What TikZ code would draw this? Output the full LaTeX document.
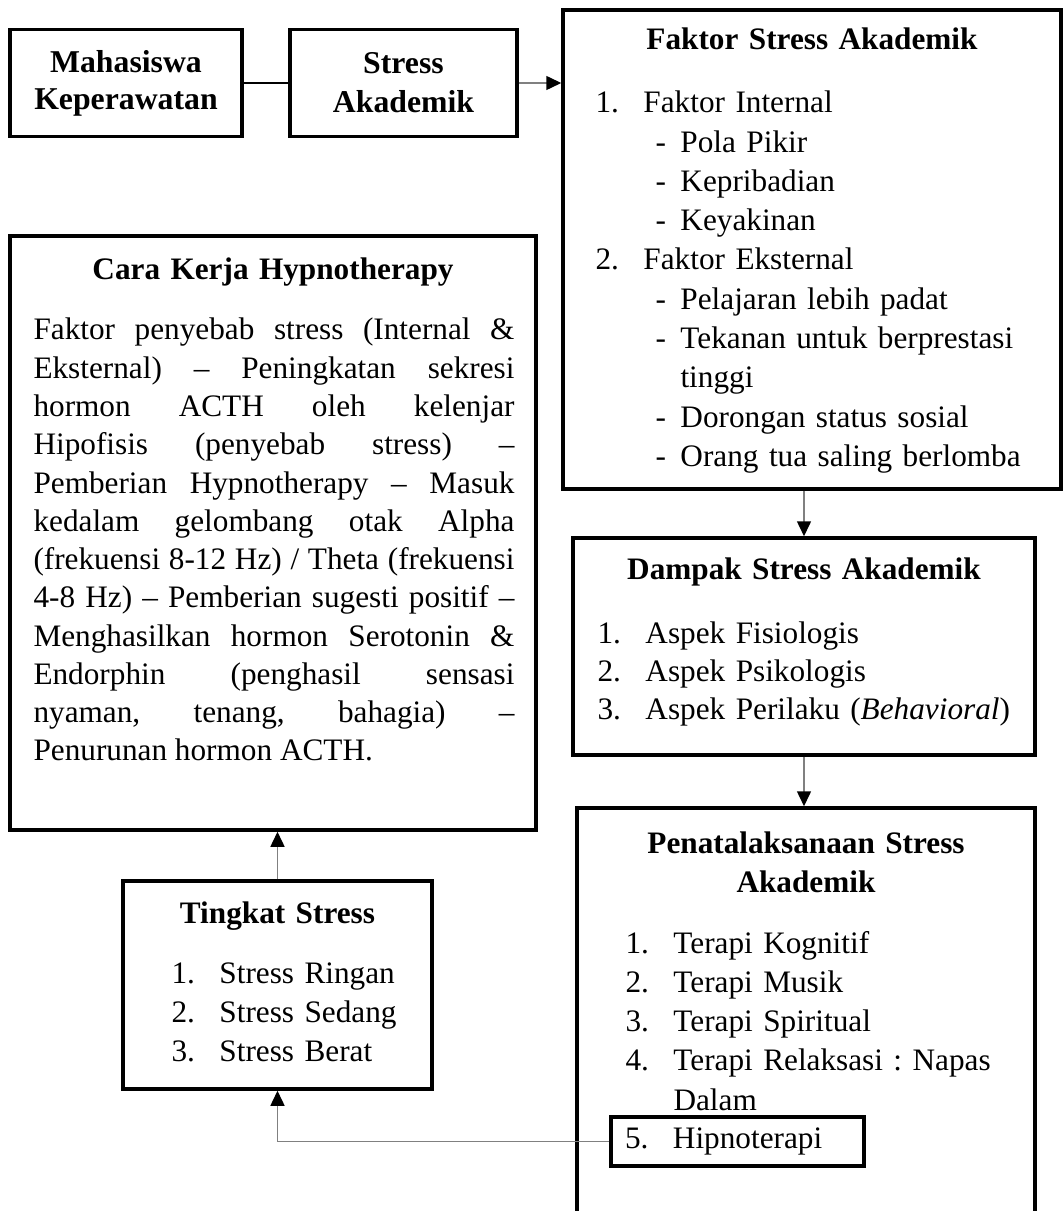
\documentclass[tikz,border=0pt]{standalone}
\usepackage{fontspec}
\setmainfont{Liberation Serif}
\usetikzlibrary{arrows.meta}
\frenchspacing
\newlength{\pxl}\setlength{\pxl}{0.4pt}
\newcommand{\jl}[1]{\makebox[\hsize][s]{#1}}
\newcommand{\nr}[1]{\makebox[48\pxl][l]{#1}}
\newcommand{\dsh}{\hspace*{60\pxl}\makebox[25\pxl][l]{-}}
\begin{document}
\begin{tikzpicture}[x=0.4pt,y=-0.4pt,
                font=\fontsize{12.5}{15.7}\selectfont\frenchspacing,
                box/.style={draw,line width=1.4pt,inner sep=0pt},
                ttl/.style={font=\fontsize{12.5}{15.6}\selectfont\bfseries,anchor=base,
                            inner sep=0pt,text width=200pt,align=center},
                lst/.style={anchor=base west,inner sep=0pt,text width=200pt,align=left},
                conn/.style={gray,line width=0.6pt,-{Triangle[length=6pt,width=5.6pt,color=black]}}]
                \clip (0,0) rectangle (1063,1211);
                \node[box,minimum width=92.8pt,minimum height=42.8pt,align=center,
                      font=\fontsize{12.7}{14.8}\selectfont\bfseries] (mhs) at (126,83) {Mahasiswa\\Keperawatan};
                \node[box,minimum width=90.8pt,minimum height=42.8pt,align=center,
                      font=\fontsize{12.7}{15.6}\selectfont\bfseries] (stres) at (403.5,83) {Stress\\Akademik};
                \node[box,minimum width=199.2pt,minimum height=191.6pt] (faktor) at (812,249.5) {};
                \node[ttl] (faktorttl) at (812,50) {Faktor Stress Akademik};
                \node[lst] (faktorlst) at (595,113) {\nr{1.}Faktor Internal\\
                    \dsh Pola Pikir\\
                    \dsh Kepribadian\\
                    \dsh Keyakinan\\
                    \nr{2.}Faktor Eksternal\\
                    \dsh Pelajaran lebih padat\\
                    \dsh Tekanan untuk berprestasi\\
                    \hspace*{85\pxl}tinggi\\
                    \dsh Dorongan status sosial\\
                    \dsh Orang tua saling berlomba};
                \node[box,minimum width=184.8pt,minimum height=86.8pt] (dampak) at (804,646.5) {};
                \node[ttl] (dampakttl) at (804,579) {Dampak Stress Akademik};
                \node[lst,font=\fontsize{12.5}{15.2}\selectfont] (dampaklst) at (597,643) {\nr{1.}Aspek Fisiologis\\
                    \nr{2.}Aspek Psikologis\\
                    \nr{3.}Aspek Perilaku (\textit{Behavioral})};
                \node[box,minimum width=183.2pt,minimum height=172.8pt] (penatal) at (806,1024) {};
                \node[ttl] (penatalttl) at (806,853) {Penatalaksanaan Stress\\Akademik};
                \node[lst] (penatallst) at (625,953) {\nr{1.}Terapi Kognitif\\
                    \nr{2.}Terapi Musik\\
                    \nr{3.}Terapi Spiritual\\
                    \nr{4.}Terapi Relaksasi : Napas\\
                    \nr{}Dalam};
                \node[box,text width=90pt,inner xsep=5.6pt,minimum height=19.6pt,align=left] (hipno) at (737.5,1141.5) {\nr{5.}Hipnoterapi};
                \node[box,minimum width=210.4pt,minimum height=237.6pt] (cara) at (273,533) {};
                \node[ttl] (carattl) at (273,280) {Cara Kerja Hypnotherapy};
                \node[lst,text width=192.4pt,align=justify,font=\fontsize{12.5}{15.3}\selectfont] (caralst) at (33,340) {\jl{Faktor penyebab stress (Internal \&}\\
                    \jl{Eksternal) – Peningkatan sekresi}\\
                    \jl{hormon ACTH oleh kelenjar}\\
                    \jl{Hipofisis (penyebab stress) –}\\
                    \jl{Pemberian Hypnotherapy – Masuk}\\
                    \jl{kedalam gelombang otak Alpha}\\
                    \jl{(frekuensi 8-12 Hz) / Theta (frekuensi}\\
                    \jl{4-8 Hz) – Pemberian sugesti positif –}\\
                    \jl{Menghasilkan hormon Serotonin \&}\\
                    \jl{Endorphin (penghasil sensasi}\\
                    \jl{nyaman, tenang, bahagia) –}\\
                    Penurunan hormon ACTH.};
                \node[box,minimum width=123.6pt,minimum height=83.2pt] (tingkat) at (277.5,985) {};
                \node[ttl] (tingkatttl) at (277.5,923) {Tingkat Stress};
                \node[lst] (tingkatlst) at (171,983) {\nr{1.}Stress Ringan\\
                    \nr{2.}Stress Sedang\\
                    \nr{3.}Stress Berat};
                \draw[line width=0.8pt] (mhs) -- (stres);
                \draw[conn] (stres) -- (faktor.west |- stres);
                \draw[conn] (faktor.south -| dampak.north) -- (dampak.north);
                \draw[conn] (dampak.south) -- (dampak.south |- penatal.north);
                \draw[conn] (tingkat.north) -- (tingkat.north |- cara.south);
                \draw[conn] (hipno.west) -| (tingkat.south);
            \end{tikzpicture}
\end{document}
